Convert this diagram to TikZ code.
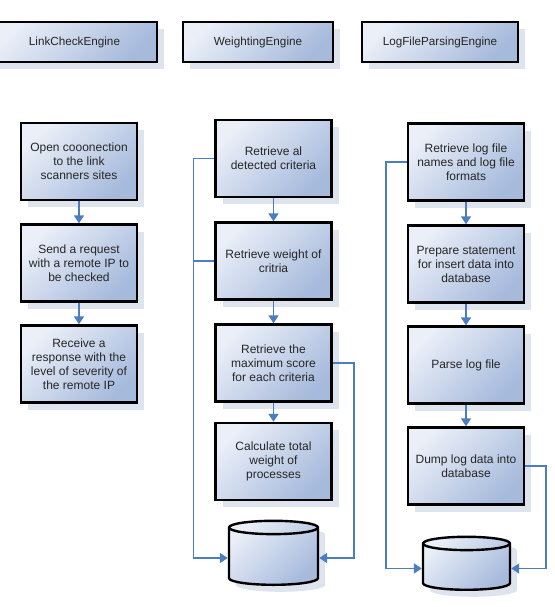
\documentclass[tikz,border=0pt]{standalone}
\usepackage{fontspec}
\setmainfont{Liberation Sans}
\usetikzlibrary{arrows.meta,shapes.geometric,shadows}
\definecolor{boxlight}{RGB}{234,239,248}
\definecolor{boxdark}{RGB}{166,186,220}
\definecolor{flowblue}{RGB}{74,126,192}
\definecolor{shadowgray}{RGB}{222,228,238}
\tikzset{
	shaded/.style={draw=black, line width=2.4pt, top color=boxlight, bottom color=boxdark, shading angle=45,
		font=\fontsize{12}{14}\selectfont, text=black!85, align=center,
		drop shadow={shadow xshift=7pt, shadow yshift=-7pt, fill=shadowgray, opacity=1}},
	stepbox/.style={shaded, minimum width=116pt, minimum height=77pt, inner sep=1pt},
	engine/.style={shaded, minimum height=40pt, font=\fontsize{11.7}{14}\selectfont},
	store/.style={shaded, cylinder, shape border rotate=90, aspect=2},
	flow/.style={draw=flowblue, line width=1.6pt, -{Triangle[width=10pt,length=8pt]}},
	link/.style={draw=flowblue, line width=1.6pt},
}
\begin{document}
\begin{tikzpicture}[x=1pt,y=-1pt]
	\useasboundingbox (0,0) rectangle (554,607);

	% engines
	\node[engine, minimum width=165pt] (linkcheck) at (74.5,42) {LinkCheckEngine};
	\node[engine, minimum width=150pt] (weighting) at (258,42) {WeightingEngine};
	\node[engine, minimum width=156pt] (logparse) at (440,42) {LogFileParsingEngine};

	% LinkCheckEngine
	\node[stepbox] (c1) at (79,161.5) {Open cooonection\\to the link\\scanners sites};
	\node[stepbox] (c2) at (79,263) {Send a request\\with a remote IP to\\be checked};
	\node[stepbox] (c3) at (79,364) {Receive a\\response with the\\level of severity of\\the remote IP};

	\draw[flow] (c1) -- (c2);
	\draw[flow] (c2) -- (c3);

	% WeightingEngine
	\node[stepbox] (w1) at (273.5,158.5) {Retrieve al\\detected criteria};
	\node[stepbox] (w2) at (273.5,261) {Retrieve weight of\\critria};
	\node[stepbox] (w3) at (273.5,363) {Retrieve the\\maximum score\\for each criteria};
	\node[stepbox] (w4) at (273.5,461.5) {Calculate total\\weight of\\processes};
	\node[store, minimum width=89pt, minimum height=64pt] (wdb) at (273.5,558) {};

	\draw[flow] (w1) -- (w2);
	\draw[flow] (w2) -- (w3);
	\draw[flow] (w3) -- (w4);
	\draw[flow] (w1.west) -- ++(-21,0) |- (wdb.west);
	\draw[link] (w2.west) -- ++(-21,0);
	\draw[flow] (w3.east) -- ++(21,0) |- (wdb.east);

	% LogFileParsingEngine
	\node[stepbox] (l1) at (466,162) {Retrieve log file\\names and log file\\formats};
	\node[stepbox] (l2) at (466,264) {Prepare statement\\for insert data into\\database};
	\node[stepbox] (l3) at (466,365) {Parse log file};
	\node[stepbox] (l4) at (466,466) {Dump log data into\\database};
	\node[store, minimum width=87pt, minimum height=53pt] (ldb) at (466.5,568.5) {};

	\draw[flow] (l1) -- (l2);
	\draw[flow] (l2) -- (l3);
	\draw[flow] (l3) -- (l4);
	\draw[flow] (l1.west) -- ++(-21,0) |- (ldb.west);
	\draw[flow] (l4.east) -- ++(21,0) |- (ldb.east);
\end{tikzpicture}
\end{document}
